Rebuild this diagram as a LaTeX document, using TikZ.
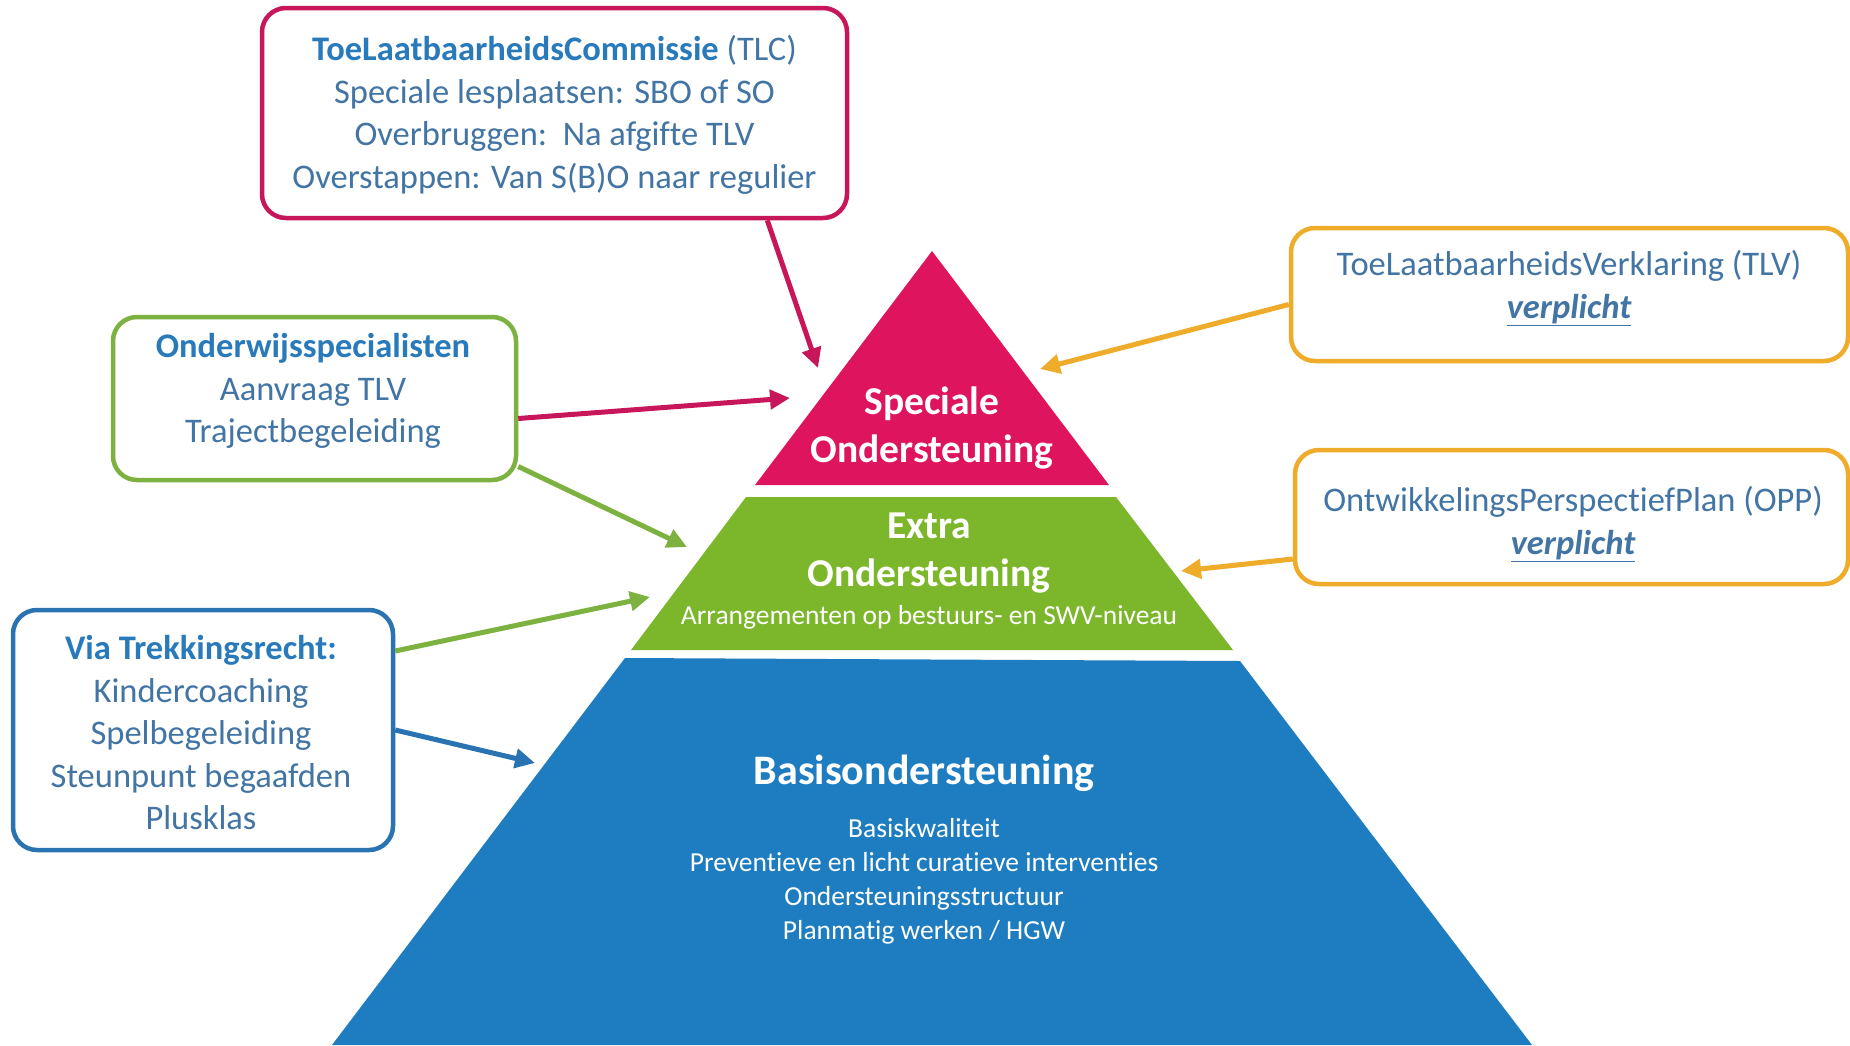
\documentclass[tikz,border=0pt]{standalone}
\usepackage{fontspec}
\setmainfont{Carlito}[Ligatures=NoCommon]
\usetikzlibrary{arrows.meta,calc}
\definecolor{pinkc}{RGB}{222,20,95}
\definecolor{pinkb}{RGB}{200,22,90}
\definecolor{greenc}{RGB}{124,182,42}
\definecolor{greenb}{RGB}{125,178,65}
\definecolor{bluec}{RGB}{30,125,192}
\definecolor{blueb}{RGB}{42,115,178}
\definecolor{orangec}{RGB}{238,172,42}
\definecolor{titletxt}{RGB}{40,122,186}
\definecolor{bodytxt}{RGB}{66,116,164}
\tikzset{
  box/.style={draw, line width=4.5pt, rounded corners=24pt, fill=white},
  boxtext/.style={align=center, text=bodytxt, font=\fontsize{34.5}{42.5}\selectfont, inner sep=0pt},
  pyrbig/.style={align=center, text=white, font=\fontsize{39.5}{48}\selectfont\bfseries, inner sep=0pt},
  pyrsmall/.style={align=center, text=white, font=\fontsize{27.5}{34}\selectfont, inner sep=0pt},
  arr/.style={line width=5pt, -{Triangle[length=20pt,width=19pt]}},
}
\begin{document}
\begin{tikzpicture}[x=1pt,y=-1pt]
\path[use as bounding box, fill=white] (0,0) rectangle (1850,1045);

% pyramid layers
\fill[pinkc] (932,251) -- (1109,485) -- (755,485) -- cycle;
\fill[greenc] (746,497) -- (1116,497) -- (1233,650) -- (631,650) -- cycle;
\fill[bluec] (625,658) -- (1240,661) -- (1532,1045) -- (332,1045) -- cycle;

\node[pyrbig] (spec) at (932,428) {Speciale\\Ondersteuning};
\node[pyrbig] (extra) at (929,553) {Extra\\Ondersteuning};
\node[pyrsmall] (arrang) at (929,617) {Arrangementen op bestuurs- en SWV-niveau};
\node[pyrbig, font=\fontsize{42}{48}\selectfont\bfseries] (basis) at (924,773) {Basisondersteuning};
\node[pyrsmall] (basislist) at (924,881) {Basiskwaliteit\\Preventieve en licht curatieve interventies\\Ondersteuningsstructuur\\Planmatig werken / HGW};

% target points on the pyramid
\coordinate (tSpecTop) at (818,368);
\coordinate (tSpecLeft) at (790,398);
\coordinate (tExtraA) at (687,547);
\coordinate (tExtraB) at (650,597);
\coordinate (tBasis) at (535,763);
\coordinate (tSpecRight) at (1040,369);
\coordinate (tExtraRight) at (1181,571);

% boxes
\node[box, draw=pinkb, minimum width=585pt, minimum height=210pt] (tlc) at (554.5,113) {};
\node[boxtext] (tlctext) at (554.5,115) {\textbf{\textcolor{titletxt}{ToeLaatbaarheidsCommissie}} (TLC)\\Speciale lesplaatsen: SBO of SO\\Overbruggen:\ \ Na afgifte TLV\\Overstappen: Van S(B)O naar regulier};

\node[box, draw=orangec, minimum width=557pt, minimum height=133pt] (tlv) at (1569.5,294.5) {};
\node[boxtext] (tlvtext) at (1569,288) {ToeLaatbaarheidsVerklaring (TLV)\\\textbf{\textit{\underline{verplicht}}}};

\node[box, draw=orangec, minimum width=553pt, minimum height=134pt] (opp) at (1571.5,517) {};
\node[boxtext] (opptext) at (1573,524) {OntwikkelingsPerspectiefPlan (OPP)\\\textbf{\textit{\underline{verplicht}}}};

\node[box, draw=greenb, minimum width=403pt, minimum height=163pt] (onder) at (314.5,398.5) {};
\node[boxtext] (ondertext) at (313,391) {\textbf{\textcolor{titletxt}{Onderwijsspecialisten}}\\Aanvraag TLV\\Trajectbegeleiding};

\node[box, draw=blueb, minimum width=380pt, minimum height=240pt] (trek) at (203,730) {};
\node[boxtext] (trektext) at (201,733) {\textbf{\textcolor{titletxt}{Via Trekkingsrecht:}}\\Kindercoaching\\Spelbegeleiding\\Steunpunt begaafden\\Plusklas};

% connectors
\draw[arr, pinkb] ([xshift=-82pt]tlc.south east) -- (tSpecTop);
\draw[arr, pinkb] ([yshift=-20pt]onder.east) -- (tSpecLeft);
\draw[arr, greenb] ([yshift=-68pt]onder.east) -- (tExtraA);
\draw[arr, greenb] ([yshift=79pt]trek.east) -- (tExtraB);
\draw[arr, blueb] (trek.east) -- (tBasis);
\draw[arr, orangec] ([yshift=-10pt]tlv.west) -- (tSpecRight);
\draw[arr, orangec] ([yshift=-42pt]opp.west) -- (tExtraRight);
\end{tikzpicture}
\end{document}
